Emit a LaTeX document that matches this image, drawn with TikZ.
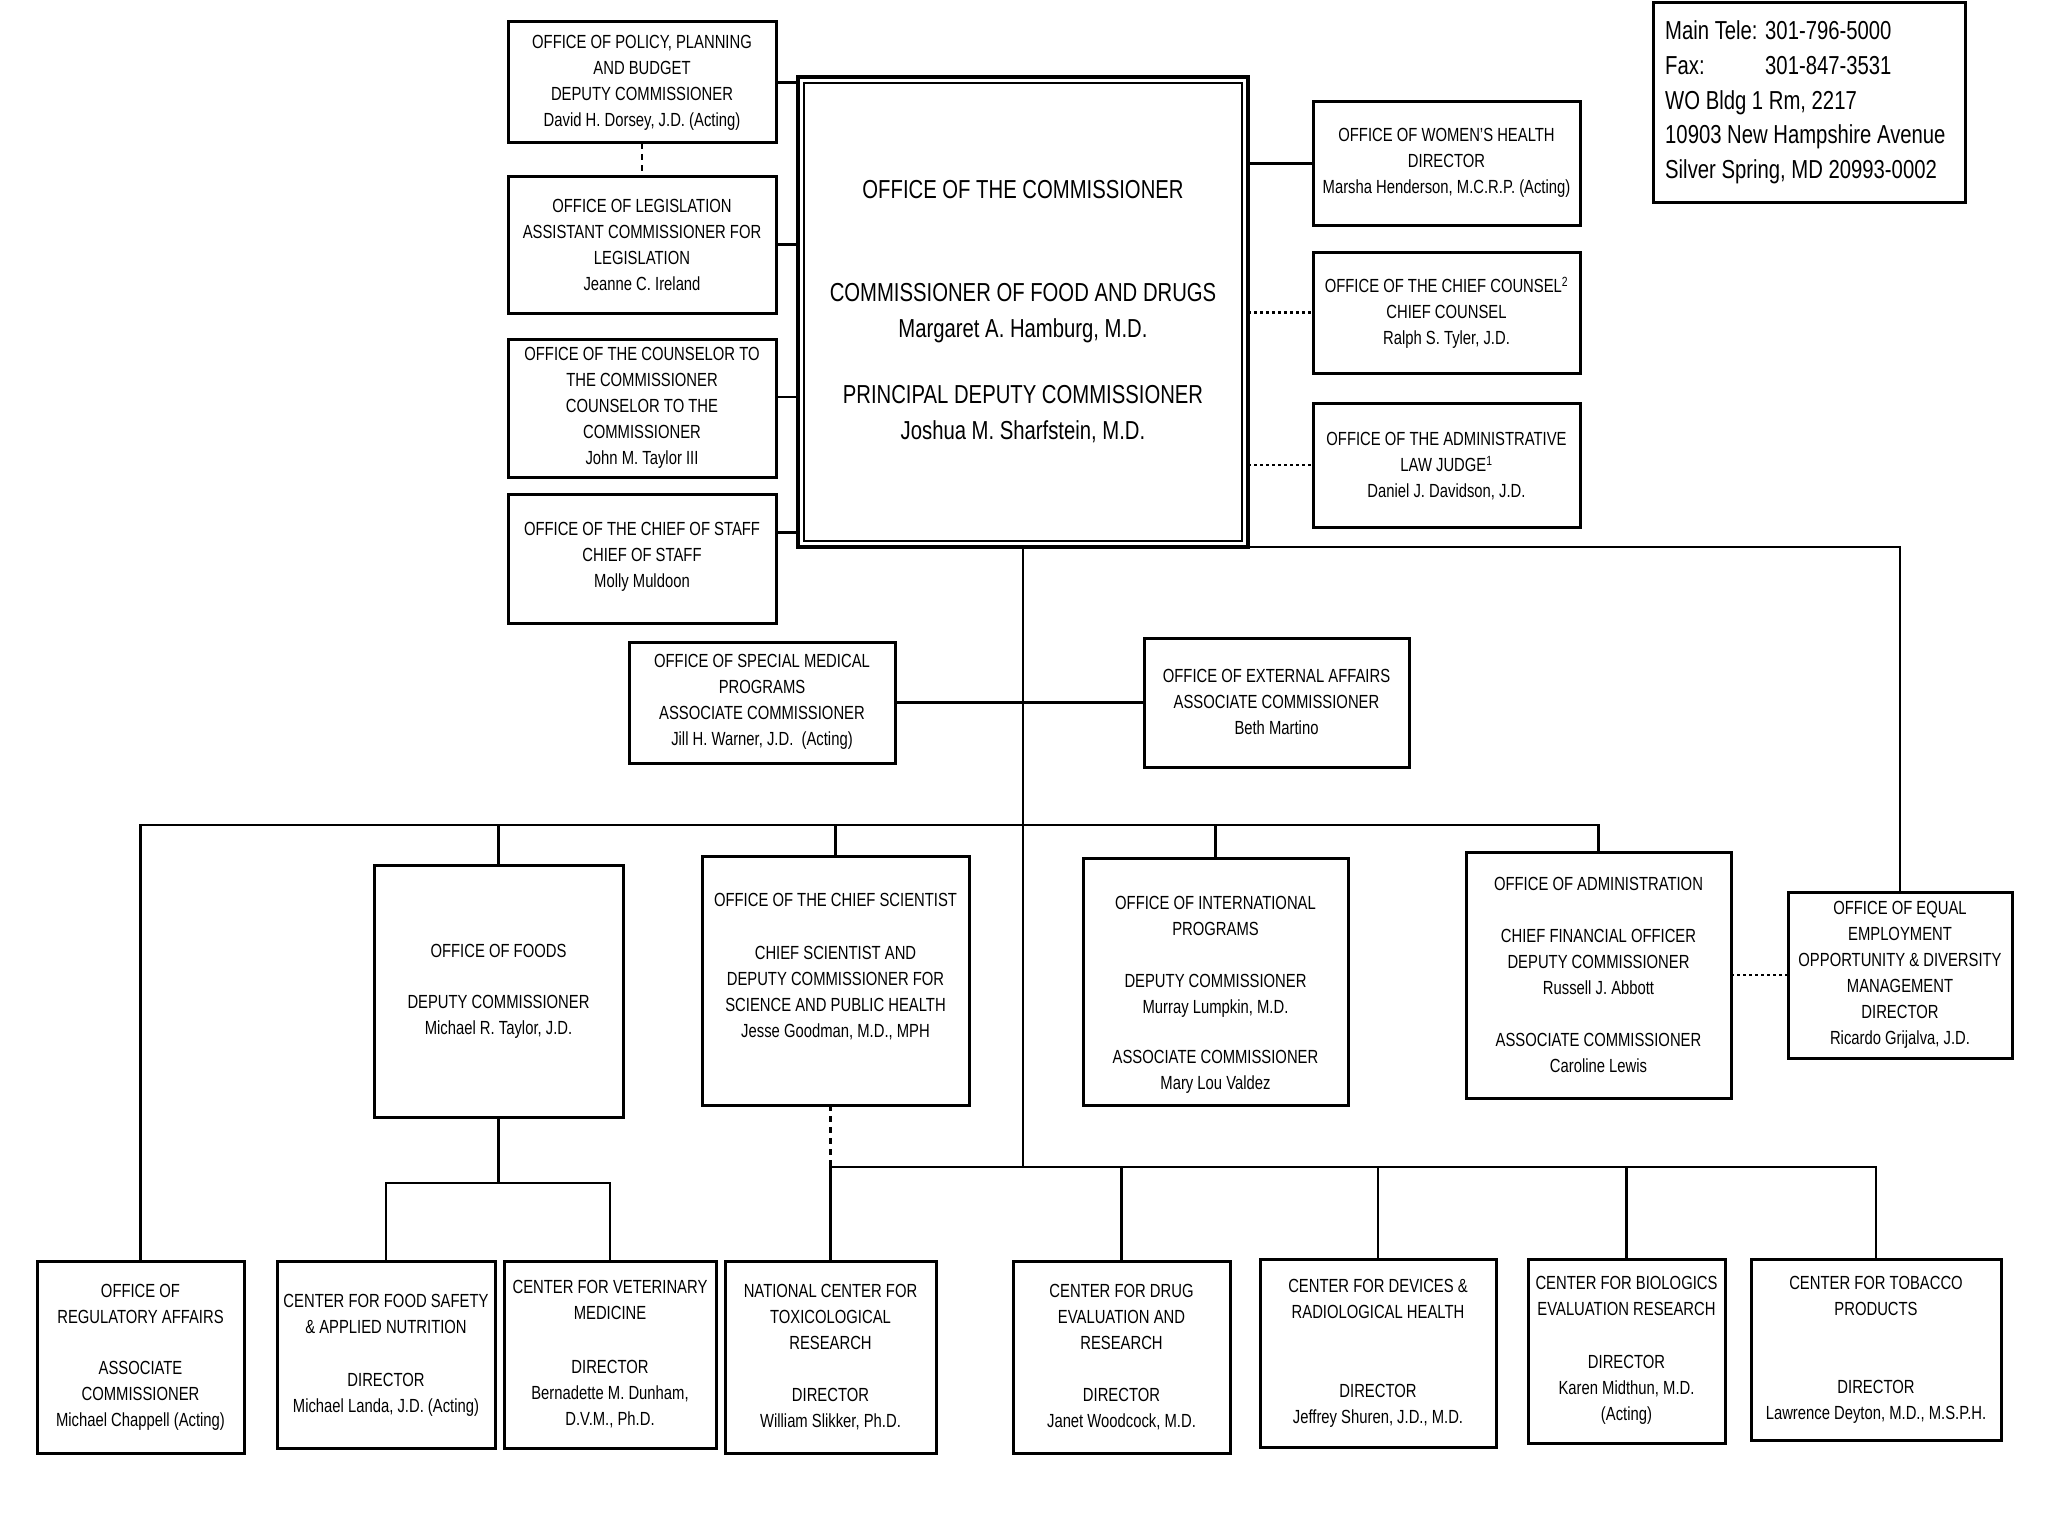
\documentclass[tikz,border=0pt]{standalone}
\usepackage{fontspec}
\setmainfont{Liberation Sans}[FakeStretch=0.78]
\usetikzlibrary{fit}
\tikzset{
  obox/.style={draw=black, line width=3pt, inner sep=0pt, outer sep=0pt},
  otxt/.style={align=center, inner sep=0pt, font=\fontsize{19}{26}\selectfont},
  conn/.style={draw=black, line width=2.5pt},
  dashconn/.style={conn, dash pattern=on 6pt off 5pt},
  dotconn/.style={conn, dash pattern=on 3pt off 3pt},
}
\newcommand\orgbox[7]{%
  \node[obox, fit={(#2,#3) (#4,#5)}] (#1) {};
  \node[otxt] (#1t) at ({(#2+#4)/2},#6) {#7};
}
\begin{document}
\begin{tikzpicture}[x=1pt,y=-1pt]
\useasboundingbox[fill=white] (0,0) rectangle (2048,1536);

% top-left column
\orgbox{b1}{508}{22}{776}{143}{83}{OFFICE OF POLICY, PLANNING\\AND BUDGET\\DEPUTY COMMISSIONER\\David H. Dorsey, J.D. (Acting)}
\orgbox{b2}{508}{176}{776}{313}{245}{OFFICE OF LEGISLATION\\ASSISTANT COMMISSIONER FOR\\LEGISLATION\\Jeanne C. Ireland}
\orgbox{b3}{508}{339}{776}{477}{408}{OFFICE OF THE COUNSELOR TO\\THE COMMISSIONER\\COUNSELOR TO THE\\COMMISSIONER\\John M. Taylor III}
\orgbox{b4}{508}{494}{776}{623}{557}{OFFICE OF THE CHIEF OF STAFF\\CHIEF OF STAFF\\Molly Muldoon}

% commissioner
\node[obox, line width=3.5pt, fit={(798,77) (1248,547)}] (comm) {};
\draw[line width=2pt] ([shift={(6,6)}]comm.north west) rectangle ([shift={(-6,-6)}]comm.south east);
\node[align=center, inner sep=0pt, font=\fontsize{26}{36}\selectfont] (commt) at (1023,312)
  {OFFICE OF THE COMMISSIONER\\[67pt]COMMISSIONER OF FOOD AND DRUGS\\Margaret A. Hamburg, M.D.\\[30pt]PRINCIPAL DEPUTY COMMISSIONER\\Joshua M. Sharfstein, M.D.};

% right column
\orgbox{r1}{1313}{102}{1580}{225}{163}{OFFICE OF WOMEN'S HEALTH\\DIRECTOR\\Marsha Henderson, M.C.R.P. (Acting)}
\orgbox{r2}{1313}{252}{1580}{373}{313}{OFFICE OF THE CHIEF COUNSEL\textsuperscript{2}\\CHIEF COUNSEL\\Ralph S. Tyler, J.D.}
\orgbox{r3}{1313}{403}{1580}{527}{466}{OFFICE OF THE ADMINISTRATIVE\\LAW JUDGE\textsuperscript{1}\\Daniel J. Davidson, J.D.}

% address
\node[obox, fit={(1653,3) (1965,202)}] (addr) {};
\node[anchor=west, align=left, inner sep=0pt, font=\fontsize{26}{34.7}\selectfont] (addrt) at (1665,102.5)
  {\makebox[100pt][l]{Main Tele:}301-796-5000\\\makebox[100pt][l]{Fax:}301-847-3531\\WO Bldg 1 Rm, 2217\\10903 New Hampshire Avenue\\Silver Spring, MD 20993-0002};

% middle row
\orgbox{smp}{629}{642}{895}{763}{702}{OFFICE OF SPECIAL MEDICAL\\PROGRAMS\\ASSOCIATE COMMISSIONER\\Jill H. Warner, J.D.\ \ (Acting)}
\orgbox{ea}{1144}{638}{1409}{767}{702}{OFFICE OF EXTERNAL AFFAIRS\\ASSOCIATE COMMISSIONER\\Beth Martino}

% second row
\orgbox{foods}{374}{865}{623}{1117}{991}{OFFICE OF FOODS\\[25pt]DEPUTY COMMISSIONER\\Michael R. Taylor, J.D.}
\orgbox{csci}{702}{856}{969}{1105}{967}{OFFICE OF THE CHIEF SCIENTIST\\[27pt]CHIEF SCIENTIST AND\\DEPUTY COMMISSIONER FOR\\SCIENCE AND PUBLIC HEALTH\\Jesse Goodman, M.D., MPH}
\orgbox{intl}{1083}{858}{1348}{1105}{995}{OFFICE OF INTERNATIONAL\\PROGRAMS\\[26pt]DEPUTY COMMISSIONER\\Murray Lumpkin, M.D.\\[24pt]ASSOCIATE COMMISSIONER\\Mary Lou Valdez}
\orgbox{adm}{1466}{852}{1731}{1098}{975}{OFFICE OF ADMINISTRATION\\[26pt]CHIEF FINANCIAL OFFICER\\DEPUTY COMMISSIONER\\Russell J. Abbott\\[26pt]ASSOCIATE COMMISSIONER\\Caroline Lewis}
\orgbox{eeo}{1788}{892}{2012}{1058}{975}{OFFICE OF EQUAL\\EMPLOYMENT\\OPPORTUNITY \& DIVERSITY\\MANAGEMENT\\DIRECTOR\\Ricardo Grijalva, J.D.}

% bottom row
\orgbox{ora}{37}{1261}{244}{1453}{1357}{OFFICE OF\\REGULATORY AFFAIRS\\[25pt]ASSOCIATE\\COMMISSIONER\\Michael Chappell (Acting)}
\orgbox{cfsan}{277}{1261}{495}{1448}{1355}{CENTER FOR FOOD SAFETY\\\& APPLIED NUTRITION\\[27pt]DIRECTOR\\Michael Landa, J.D. (Acting)}
\orgbox{cvm}{504}{1261}{716}{1448}{1354}{CENTER FOR VETERINARY\\MEDICINE\\[28pt]DIRECTOR\\Bernadette M. Dunham,\\D.V.M., Ph.D.}
\orgbox{nctr}{725}{1261}{936}{1453}{1357}{NATIONAL CENTER FOR\\TOXICOLOGICAL\\RESEARCH\\[26pt]DIRECTOR\\William Slikker, Ph.D.}
\orgbox{cder}{1013}{1261}{1230}{1453}{1357}{CENTER FOR DRUG\\EVALUATION AND\\RESEARCH\\[26pt]DIRECTOR\\Janet Woodcock, M.D.}
\orgbox{cdrh}{1260}{1259}{1496}{1447}{1353}{CENTER FOR DEVICES \&\\RADIOLOGICAL HEALTH\\[53pt]DIRECTOR\\Jeffrey Shuren, J.D., M.D.}
\orgbox{cber}{1528}{1259}{1725}{1443}{1350}{CENTER FOR BIOLOGICS\\EVALUATION RESEARCH\\[27pt]DIRECTOR\\Karen Midthun, M.D.\\(Acting)}
\orgbox{ctp}{1751}{1259}{2001}{1440}{1350}{CENTER FOR TOBACCO\\PRODUCTS\\[52pt]DIRECTOR\\Lawrence Deyton, M.D., M.S.P.H.}

% bus coordinates
\coordinate (busU) at (0,825);
\coordinate (busL) at (0,1167);
\coordinate (busF) at (0,1183);
\coordinate (b3c) at ([yshift=11pt]b3.east);
\coordinate (b4c) at ([yshift=26pt]b4.east);

% connectors
\draw[conn] (b1.east) -- (b1.east -| comm.west);
\draw[conn] (b2.east) -- (b2.east -| comm.west);
\draw[conn] (b3c) -- (b3c -| comm.west);
\draw[conn] (b4c) -- (b4c -| comm.west);
\draw[dashconn] (b1.south) -- (b2.north);
\draw[conn] (r1.west -| comm.east) -- (r1.west);
\draw[dotconn] (r2.west -| comm.east) -- (r2.west);
\draw[dotconn] (r3.west -| comm.east) -- (r3.west);
\draw[conn] (comm.south east) -| (eeo.north);
\draw[conn] (comm.south) -- (comm.south |- busL);
\draw[conn] (smp.east) -- (ea.west);
\draw[conn] (ora.north) |- (adm.north |- busU) -- (adm.north);
\foreach \n in {foods,csci,intl} \draw[conn] (\n.north |- busU) -- (\n.north);
\draw[dashconn] (nctr.north |- csci.south) -- (nctr.north |- busL);
\draw[conn] (nctr.north) |- (ctp.north |- busL) -- (ctp.north);
\foreach \n in {cder,cdrh,cber} \draw[conn] (\n.north |- busL) -- (\n.north);
\draw[conn] (foods.south) -- (foods.south |- busF);
\draw[conn] (cfsan.north) |- (cvm.north |- busF) -- (cvm.north);
\draw[dotconn] (adm.east) -- (eeo.west);
\end{tikzpicture}
\end{document}
